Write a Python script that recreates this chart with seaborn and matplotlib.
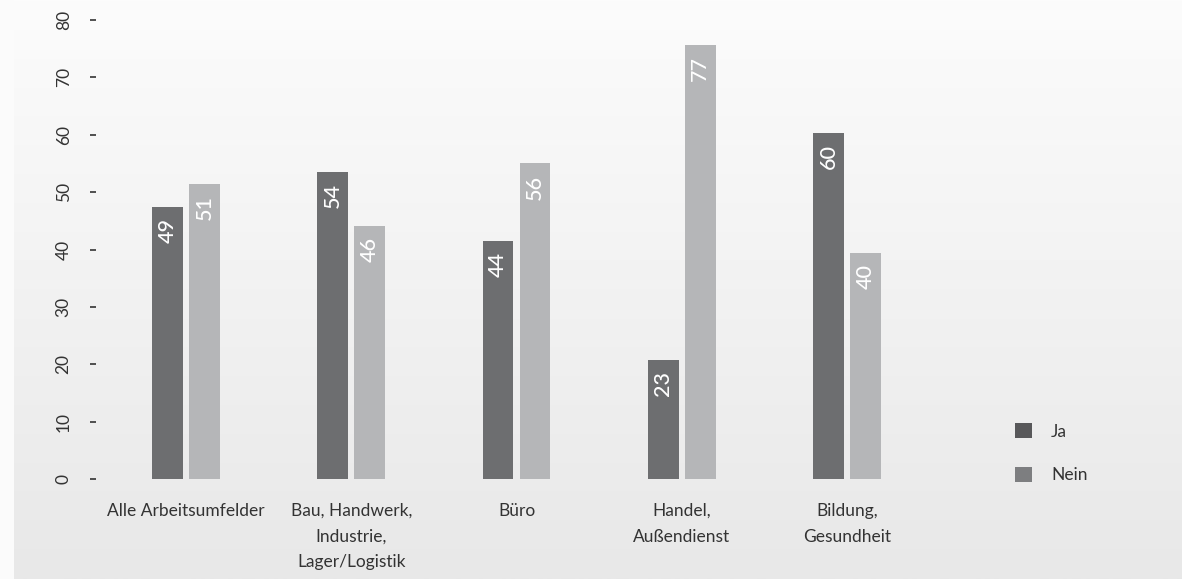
import numpy as np
import pandas as pd
import matplotlib
matplotlib.use("Agg")
import matplotlib.pyplot as plt
from matplotlib.patches import Patch
import seaborn as sns

# ---- data ----
categories = ["Alle Arbeitsumfelder",
              "Bau, Handwerk,\nIndustrie,\nLager/Logistik",
              "Büro",
              "Handel,\nAußendienst",
              "Bildung,\nGesundheit"]
series_names = ["Ja", "Nein"]
ja_values = [47.4, 53.5, 41.5, 20.8, 60.3]
nein_values = [51.4, 44.1, 55.0, 75.7, 39.4]
ja_labels = ["49", "54", "44", "23", "60"]
nein_labels = ["51", "46", "56", "77", "40"]
y_ticks = [0, 10, 20, 30, 40, 50, 60, 70, 80]

# ---- style ----
bar_colors = ["#6d6e70", "#b5b6b8"]
legend_colors = ["#58585a", "#7d7e80"]
text_color = "#333333"

sns.set_theme(style="white")
plt.rcParams["font.family"] = ["Lato", "DejaVu Sans"]

W, H, DPI = 1182, 579, 100
fig = plt.figure(figsize=(W / DPI, H / DPI), dpi=DPI, facecolor="#fbfbfb")

# background gradient panel
bg = fig.add_axes([14 / W, 0, 1 - 14 / W, 1], zorder=0)
grad = np.linspace(0, 1, 256).reshape(-1, 1)
top_c = np.array([0xfc, 0xfc, 0xfc]) / 255
bot_c = np.array([0xe8, 0xe8, 0xe8]) / 255
img = top_c[None, None, :] * (1 - grad[:, :, None]) + bot_c[None, None, :] * grad[:, :, None]
bg.imshow(img, aspect="auto", extent=[0, 1, 0, 1], origin="upper")
bg.set_axis_off()

# main axes
left_px, right_px = 96, 1110
y0_px, y80_px = 479.3, 19.9
ax = fig.add_axes([left_px / W, (H - y0_px) / H, (right_px - left_px) / W, (y0_px - y80_px) / H], zorder=1)
ax.patch.set_alpha(0)

df = pd.DataFrame({
    "category": categories * 2,
    "answer": [series_names[0]] * len(categories) + [series_names[1]] * len(categories),
    "value": ja_values + nein_values,
})

sns.barplot(data=df, x="category", y="value", hue="answer", order=categories,
            hue_order=series_names, palette=bar_colors, saturation=1,
            width=0.448, gap=0.168, legend=False, ax=ax, linewidth=0)

# value labels inside the bars, near the top
for container, labels in zip(ax.containers, [ja_labels, nein_labels]):
    for bar, lbl in zip(container, labels):
        ax.annotate(lbl, (bar.get_x() + bar.get_width() / 2, bar.get_height()),
                    xytext=(0, -8), textcoords="offset points",
                    rotation=90, ha="center", va="top", color="white",
                    fontsize=15.5, fontweight="medium")

# axes limits
px_per_unit = 165.25
x0_px = 186
ax.set_xlim(-(x0_px - left_px) / px_per_unit, (right_px - x0_px) / px_per_unit)
ax.set_ylim(0, 80)
ax.set_yticks(y_ticks)
ax.set_yticklabels([str(t) for t in y_ticks], rotation=90, va="center",
                   color=text_color, fontsize=12.5)
ax.set_xticks(range(len(categories)))
ax.set_xticklabels(categories, color=text_color, fontsize=12.5, linespacing=1.75)
ax.tick_params(axis="y", which="both", left=True, length=4.5, width=1.2,
               color=text_color, pad=13, direction="out")
ax.tick_params(axis="x", length=0, pad=17)
ax.set_xlabel("")
ax.set_ylabel("")
for s in ax.spines.values():
    s.set_visible(False)
ax.grid(False)

# legend
handles = [Patch(facecolor=c, edgecolor="none") for c in legend_colors]
fig.legend(handles, series_names, loc="upper left",
           bbox_to_anchor=(1015 / W, (H - 423) / H), frameon=False,
           fontsize=12.5, handlelength=0.98, handleheight=0.98,
           handletextpad=1.1, labelspacing=1.55, borderpad=0, borderaxespad=0,
           labelcolor=text_color)

fig.savefig("out.png", dpi=DPI)
